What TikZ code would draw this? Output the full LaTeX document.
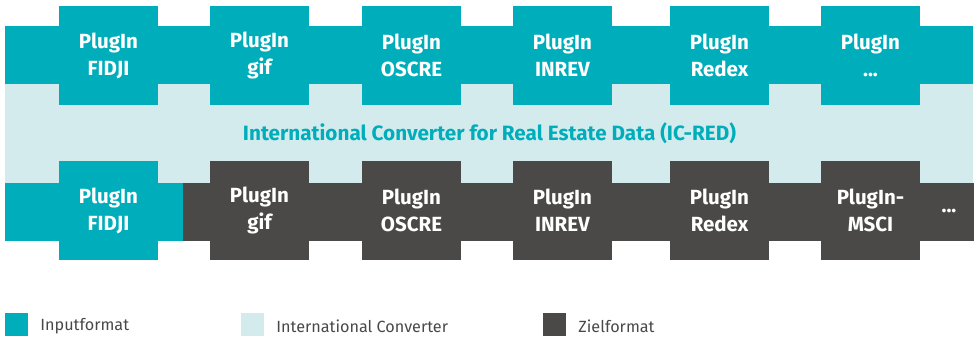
\documentclass[tikz,border=0pt]{standalone}
\usepackage{fontspec}
\setmainfont{Fira Sans}
\usetikzlibrary{positioning}

\definecolor{icteal}{HTML}{00AEBB}
\definecolor{iclight}{HTML}{D4EBEE}
\definecolor{icdark}{HTML}{4A4947}
\definecolor{legendgray}{HTML}{484848}

\newcommand{\icdots}{...}

\tikzset{
  plugin/.style={minimum width=99pt, minimum height=99pt, inner sep=0pt, align=center,
    text=white, font=\bfseries\fontsize{20.5}{27}\selectfont},
  legbox/.style={minimum size=23pt, inner sep=0pt},
  legtext/.style={inner sep=0pt, yshift=-1.5pt, text=legendgray, font=\fontsize{16.2}{20}\selectfont}
}

\begin{document}
\begin{tikzpicture}[x=1pt,y=-1pt]
\useasboundingbox (0,0) rectangle (978,337);
\fill[iclight] (5,84) rectangle (973,183);
\fill[icteal] (5,26) rectangle (973,84);
\foreach \x/\name [count=\i] in {108.5/FIDJI,259.5/gif,411.5/OSCRE,562.5/INREV,719.5/Redex,870.5/\icdots}{
  \node[plugin, fill=icteal] (in\i) at (\x,55.5) {PlugIn\\\name};
}
\node[text=icteal, font=\bfseries\fontsize{20.7}{24}\selectfont] (icred) at (489.5,133.5)
  {International Converter for Real Estate Data (IC-RED)};
\fill[icteal] (5,183) rectangle (183,241);
\fill[icdark] (183,183) rectangle (974,241);
\node[plugin, fill=icteal] (out1) at (108.5,210.5) {PlugIn\\FIDJI};
\foreach \x/\name [count=\i from 2] in {259.5/gif,411.5/OSCRE,562.5/INREV,719.5/Redex}{
  \node[plugin, fill=icdark] (out\i) at (\x,210.5) {PlugIn\\\name};
}
\node[plugin, fill=icdark] (out6) at (870.5,210.5) {PlugIn-\\MSCI};
\node[text=white, font=\bfseries\fontsize{20.5}{24}\selectfont] (more) at (949,211) {\icdots};

\node[legbox, fill=icteal] (l1) at (16.5,324.5) {};
\node[legtext, right=12pt of l1] (t1) {Inputformat};
\node[legbox, fill=iclight] (l2) at (252.5,324.5) {};
\node[legtext, right=12pt of l2] (t2) {International Converter};
\node[legbox, fill=icdark] (l3) at (554.5,324.5) {};
\node[legtext, right=12pt of l3] (t3) {Zielformat};
\end{tikzpicture}
\end{document}
